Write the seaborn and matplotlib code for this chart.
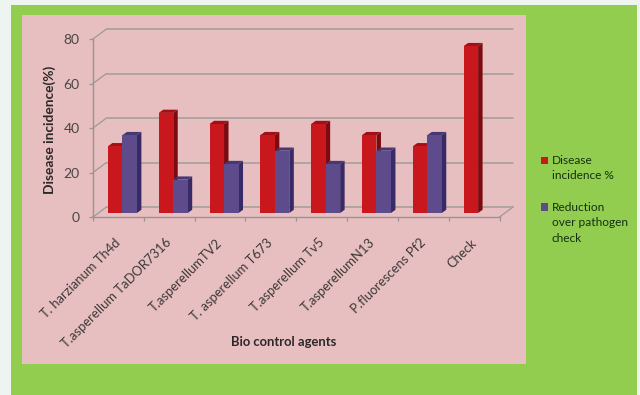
import numpy as np
import pandas as pd
import matplotlib
matplotlib.use("Agg")
import matplotlib.pyplot as plt
from matplotlib.patches import Polygon, Rectangle
from matplotlib.transforms import ScaledTranslation
import seaborn as sns

categories = ["T. harzianum Th4d", "T.asperellum TaDOR7316", "T.asperellumTV2", "T. asperellum T673",
              "T.asperellum Tv5", "T.asperellumN13", "P.fluorescens Pf2", "Check"]
disease = [30, 45, 40, 35, 40, 35, 30, 75]
reduction = [35, 15, 22, 28, 22, 28, 35, np.nan]
series_names = ["Disease\nincidence %", "Reduction\nover pathogen\ncheck"]
y_ticks = [0, 20, 40, 60, 80]

W, H = 640, 395
sns.set_theme(style="white")
plt.rcParams["font.family"] = ["Lato", "DejaVu Sans"]

df = pd.DataFrame({"agent": categories * 2,
                   "value": disease + reduction,
                   "series": [series_names[0]] * 8 + [series_names[1]] * 8})

fig = plt.figure(figsize=(W / 100, H / 100), dpi=100, facecolor="#eef5f0")

def fig_rect(x0, y0, x1, y1, color):
    fig.add_artist(Rectangle((x0 / W, 1 - y1 / H), (x1 - x0) / W, (y1 - y0) / H,
                             transform=fig.transFigure, color=color, lw=0, zorder=-5))

fig_rect(11, 5, 637, 395, "#92cd50")
fig_rect(22, 15, 526, 364, "#e8bfc0")

def axes_px(x0, y_top, x1, y_bot):
    a = fig.add_axes([x0 / W, 1 - y_bot / H, (x1 - x0) / W, (y_bot - y_top) / H])
    a.patch.set_alpha(0)
    return a

# frame axes: front plane of the pseudo-3D box
L, R, T, B = 93, 499.5, 39, 217
ax = axes_px(L, T, R, B)
ax.set_xlim(-0.5, 7.5)
ax.set_ylim(0, 80)
grid_c = "#a39c9c"
off = ScaledTranslation(13.5 / 100, 10 / 100, fig.dpi_scale_trans)
for v in y_ticks:
    ax.plot([-0.5, 7.5], [v, v], color=grid_c, lw=1.1, transform=ax.transData + off, clip_on=False, zorder=1)
    dy = 10 / 2.225
    dx = 13.5 / 50.8
    ax.plot([-0.5, -0.5 + dx], [v, v + dy], color=grid_c, lw=1.0, clip_on=False, zorder=1)
ax.plot([7.5, 7.5 + 13.5 / 50.8], [0, 10 / 2.225], color=grid_c, lw=1.0, clip_on=False, zorder=1)
for s in ["top", "right"]:
    ax.spines[s].set_visible(False)
for s in ["left", "bottom"]:
    ax.spines[s].set_color("#989494")
    ax.spines[s].set_linewidth(1.0)
ax.set_yticks(y_ticks)
ax.set_xticks(np.arange(-0.5, 8.5, 1), labels=[])
ax.tick_params(axis="both", which="major", length=3, width=0.9, color="#989494", left=True, bottom=True)
ax.tick_params(axis="y", labelsize=10, labelcolor="#4a4444", pad=6.5)
ax.set_xticks(np.arange(8), labels=categories, minor=True)
ax.tick_params(axis="x", which="minor", length=0, labelsize=9.4, labelcolor="#3c3838", pad=14, bottom=False)
shift = ScaledTranslation(-4 / 100, 0, fig.dpi_scale_trans)
for t in ax.get_xticklabels(minor=True):
    t.set_rotation(45)
    t.set_ha("right")
    t.set_va("top")
    t.set_rotation_mode("anchor")
    t.set_transform(t.get_transform() + shift)
ax.set_ylabel("Disease incidence(%)", fontsize=9.9, fontweight="bold", color="#2c2828")
ax.yaxis.set_label_coords((56 - L) / (R - L), 0.49)
ax.set_xlabel("Bio control agents", fontsize=9.4, fontweight="bold", color="#2c2828")
ax.xaxis.set_label_coords((284 - L) / (R - L), -(342 - B) / (B - T), transform=ax.transAxes)
ax.xaxis.label.set_va("center")

# bars axes: same scale, set slightly into the box
bx = axes_px(L + 4, T - 4, R + 4, B - 4)
face = ["#c8181e", "#5e4b8b"]
side = ["#7c0a10", "#382a66"]
top = ["#a01016", "#463872"]
sns.barplot(data=df, x="agent", y="value", hue="series", order=categories, hue_order=series_names,
            palette=face, width=0.57, gap=0, saturation=1, ax=bx, zorder=3, linewidth=0, legend=True)
bx.set_xlim(-0.5, 7.5)
bx.set_ylim(0, 80)
bx.axis("off")
ddx, ddy = 4.5 / 50.8, 3.2 / 2.225
for i, cont in enumerate(bx.containers):
    for p in cont:
        h = p.get_height()
        if not np.isfinite(h) or h <= 0:
            continue
        x0, w = p.get_x(), p.get_width()
        x1 = x0 + w
        bx.add_patch(Polygon([(x1, 0), (x1 + ddx, ddy), (x1 + ddx, h + ddy), (x1, h)],
                             facecolor=side[i], lw=0, zorder=2, clip_on=False))
        bx.add_patch(Polygon([(x0, h), (x0 + ddx, h + ddy), (x1 + ddx, h + ddy), (x1, h)],
                             facecolor=top[i], lw=0, zorder=2, clip_on=False))

sns.move_legend(bx, loc="upper left", bbox_to_anchor=(530 / W, 1 - 144 / H),
                bbox_transform=fig.transFigure, frameon=False, title=None, fontsize=8.6,
                handlelength=0.6, handleheight=0.6, handletextpad=0.3, labelspacing=1.7,
                labelcolor="#143010")
leg = bx.get_legend()
for t in leg.get_texts():
    t.set_linespacing(1.5)
# squares sit on the first text line of each entry
for handle, lift in zip(leg.get_patches(), [5.5, 11.5]):
    handle.set_y(handle.get_y() + lift)

fig.savefig("out.png", dpi=100, facecolor=fig.get_facecolor())
